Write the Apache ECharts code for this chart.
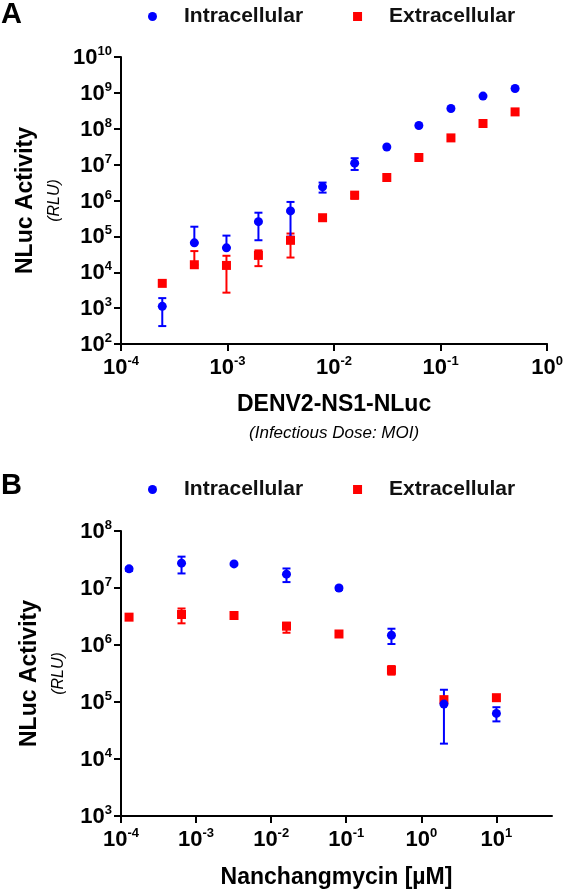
<!DOCTYPE html>
<html>
<head>
<meta charset="utf-8">
<script src="https://cdn.jsdelivr.net/npm/echarts@6/dist/echarts.min.js"></script>
<style>
html,body{margin:0;padding:0;background:#fff;}
#chart{width:566px;height:892px;}
</style>
</head>
<body>
<div id="chart"></div>
<script>
// ---------- Panel A data (DENV2-NS1-NLuc infectious dose, MOI) ----------
const aDose = [0.000244, 0.000488, 0.000977, 0.00195, 0.0039, 0.0078, 0.0156, 0.03125, 0.0625, 0.125, 0.25, 0.5];
const aIntra     = [1120, 66000, 48000, 257000, 513000, 2400000, 11000000, 31000000, 123000000, 367000000, 813000000, 1320000000];
const aIntraLow  = [316, 66000, 48000, 78000, 98000, 1660000, 7100000, 31000000, 123000000, 367000000, 813000000, 1320000000];
const aIntraHigh = [1900, 186000, 105000, 457000, 912000, 3160000, 15100000, 31000000, 123000000, 367000000, 813000000, 1320000000];
const aExtra     = [4900, 16200, 15500, 29500, 77600, 331000, 1410000, 4370000, 15800000, 55600000, 140000000, 295000000];
const aExtraLow  = [4900, 16200, 2700, 14800, 25700, 331000, 1120000, 4370000, 15800000, 55600000, 140000000, 295000000];
const aExtraHigh = [4900, 38900, 28800, 40700, 120000, 331000, 1580000, 4370000, 15800000, 55600000, 140000000, 295000000];
const aXTicks = [1e-4, 1e-3, 1e-2, 1e-1, 1];
const aYTicks = [1e2, 1e3, 1e4, 1e5, 1e6, 1e7, 1e8, 1e9, 1e10];

// ---------- Panel B data (Nanchangmycin, µM) ----------
const bConc = [0.000128, 0.00064, 0.0032, 0.016, 0.08, 0.4, 2, 10];
const bIntra     = [21700000, 27300000, 26500000, 17500000, 10000000, 1480000, 92000, 63000];
const bIntraLow  = [20000000, 18000000, 26500000, 12700000, 9300000, 1040000, 18600, 45700];
const bIntraHigh = [22900000, 35500000, 26500000, 22000000, 10500000, 1930000, 164000, 81000];
const bExtra     = [3080000, 3430000, 3290000, 2140000, 1560000, 361000, 110000, 119000];
const bExtraLow  = [3080000, 2400000, 3290000, 1640000, 1560000, 302000, 110000, 119000];
const bExtraHigh = [3080000, 4370000, 3290000, 2450000, 1560000, 427000, 110000, 119000];
const bXTicks = [1e-4, 1e-3, 1e-2, 1e-1, 1, 10];
const bYTicks = [1e3, 1e4, 1e5, 1e6, 1e7, 1e8];

const BLUE = '#0000FF';
const RED = '#FF0000';
const FONT = '"Liberation Sans", Arial, Helvetica, sans-serif';

function pts(xs, ys) { return xs.map((x, i) => [x, ys[i]]); }
function errs(xs, lo, hi) { return xs.map((x, i) => [x, lo[i], hi[i]]); }

function powLabel(v) {
  const e = Math.round(Math.log10(v));
  return '{b|10}{s|' + e + '}';
}
const labelRich = {
  b: { fontSize: 22, fontWeight: 'bold', fontFamily: FONT, color: '#000', lineHeight: 24, verticalAlign: 'bottom' },
  s: { fontSize: 13, fontWeight: 'bold', fontFamily: FONT, color: '#000', verticalAlign: 'top', lineHeight: 13 }
};

function errorSeries(name, xi, yi, data, color) {
  return {
    type: 'custom', name: name, xAxisIndex: xi, yAxisIndex: yi, data: data, silent: true,
    renderItem: function (params, api) {
      const x = api.value(0), lo = api.value(1), hi = api.value(2);
      const pLo = api.coord([x, lo]);
      const pHi = api.coord([x, hi]);
      const hw = 4;
      const st = { stroke: color, lineWidth: 2 };
      if (Math.abs(pLo[1] - pHi[1]) < 0.5) return null;
      const children = [
        { type: 'line', shape: { x1: pLo[0], y1: pLo[1], x2: pHi[0], y2: pHi[1] }, style: st },
        { type: 'line', shape: { x1: pHi[0] - hw, y1: pHi[1], x2: pHi[0] + hw, y2: pHi[1] }, style: st }
      ];
      if (lo < hi) {
        children.push({ type: 'line', shape: { x1: pLo[0] - hw, y1: pLo[1], x2: pLo[0] + hw, y2: pLo[1] }, style: st });
      }
      return { type: 'group', children: children };
    }
  };
}

function xAxisCfg(gi, min, max, ticks, nameRich) {
  return {
    type: 'log', logBase: 10, gridIndex: gi, min: min, max: max,
    axisLine: { show: true, onZero: false, lineStyle: { color: '#000', width: 2 } },
    axisTick: { show: true, customValues: ticks, length: 7, lineStyle: { color: '#000', width: 2 } },
    axisLabel: { customValues: ticks, formatter: powLabel, rich: labelRich, margin: 11 },
    minorTick: { show: false }, splitLine: { show: false }, minorSplitLine: { show: false },
    name: nameRich.text, nameLocation: 'middle', nameGap: nameRich.gap,
    nameTextStyle: { rich: nameRich.rich, align: 'center' }
  };
}
function yAxisCfg(gi, min, max, ticks) {
  return {
    type: 'log', logBase: 10, gridIndex: gi, min: min, max: max,
    axisLine: { show: true, onZero: false, lineStyle: { color: '#000', width: 2 } },
    axisTick: { show: true, customValues: ticks, length: 7, lineStyle: { color: '#000', width: 2 } },
    axisLabel: { customValues: ticks, formatter: powLabel, rich: labelRich, margin: 9 },
    minorTick: { show: false }, splitLine: { show: false }, minorSplitLine: { show: false },
    name: '{t|NLuc Activity}\n{i|(RLU)}', nameLocation: 'middle', nameGap: 50, nameRotate: 90,
    nameTextStyle: {
      align: 'center',
      rich: {
        t: { fontSize: 23, fontWeight: 'bold', fontFamily: FONT, color: '#000', lineHeight: 34, align: 'center' },
        i: { fontSize: 16, fontStyle: 'italic', fontFamily: FONT, color: '#000', lineHeight: 24, align: 'center' }
      }
    }
  };
}

const legendText = { fontSize: 21, fontWeight: 'bold', fontFamily: FONT, color: '#111', padding: [0, 0, 0, 22] };
function legendCfg(top) {
  return {
    data: [{ name: 'Intracellular', icon: 'circle' }, { name: 'Extracellular', icon: 'rect' }],
    left: 148, top: top, padding: 0,
    itemWidth: 9, itemHeight: 9, itemGap: 50, textStyle: legendText, selectedMode: false
  };
}

const option = {
  animation: false,
  backgroundColor: '#fff',
  title: [
    { text: 'A', left: 1, top: 0, padding: 0, textStyle: { fontSize: 29, fontWeight: 'bold', fontFamily: FONT, color: '#000' } },
    { text: 'B', left: 1, top: 471, padding: 0, textStyle: { fontSize: 29, fontWeight: 'bold', fontFamily: FONT, color: '#000' } }
  ],
  legend: [legendCfg(6), legendCfg(479)],
  grid: [
    { left: 121, top: 57, width: 429, height: 287 },
    { left: 121, top: 531, width: 431, height: 285 }
  ],
  xAxis: [
    xAxisCfg(0, 1e-4, 1, aXTicks, {
      text: '{t|DENV2-NS1-NLuc}\n{i|(Infectious Dose: MOI)}', gap: 47,
      rich: {
        t: { fontSize: 23, fontWeight: 'bold', fontFamily: FONT, color: '#000', lineHeight: 28, align: 'center' },
        i: { fontSize: 17, fontStyle: 'italic', fontFamily: FONT, color: '#000', lineHeight: 28, align: 'center' }
      }
    }),
    xAxisCfg(1, 1e-4, 55, bXTicks, {
      text: '{t|Nanchangmycin [µM]}', gap: 48,
      rich: { t: { fontSize: 23, fontWeight: 'bold', fontFamily: FONT, color: '#000', lineHeight: 28, align: 'center' } }
    })
  ],
  yAxis: [
    yAxisCfg(0, 1e2, 1e10, aYTicks),
    yAxisCfg(1, 1e3, 1e8, bYTicks)
  ],
  series: [
    errorSeries('aExtraErr', 0, 0, errs(aDose, aExtraLow, aExtraHigh), RED),
    { type: 'scatter', name: 'Extracellular', xAxisIndex: 0, yAxisIndex: 0, symbol: 'rect', symbolSize: 9,
      itemStyle: { color: RED, opacity: 1 }, data: pts(aDose, aExtra) },
    errorSeries('aIntraErr', 0, 0, errs(aDose, aIntraLow, aIntraHigh), BLUE),
    { type: 'scatter', name: 'Intracellular', xAxisIndex: 0, yAxisIndex: 0, symbol: 'circle', symbolSize: 9,
      itemStyle: { color: BLUE, opacity: 1 }, data: pts(aDose, aIntra) },

    errorSeries('bExtraErr', 1, 1, errs(bConc, bExtraLow, bExtraHigh), RED),
    { type: 'scatter', name: 'Extracellular', xAxisIndex: 1, yAxisIndex: 1, symbol: 'rect', symbolSize: 9,
      itemStyle: { color: RED, opacity: 1 }, data: pts(bConc, bExtra) },
    errorSeries('bIntraErr', 1, 1, errs(bConc, bIntraLow, bIntraHigh), BLUE),
    { type: 'scatter', name: 'Intracellular', xAxisIndex: 1, yAxisIndex: 1, symbol: 'circle', symbolSize: 9,
      itemStyle: { color: BLUE, opacity: 1 }, data: pts(bConc, bIntra) }
  ]
};

const chart = echarts.init(document.getElementById('chart'), null, { renderer: 'canvas' });
chart.setOption(option);
</script>
</body>
</html>
